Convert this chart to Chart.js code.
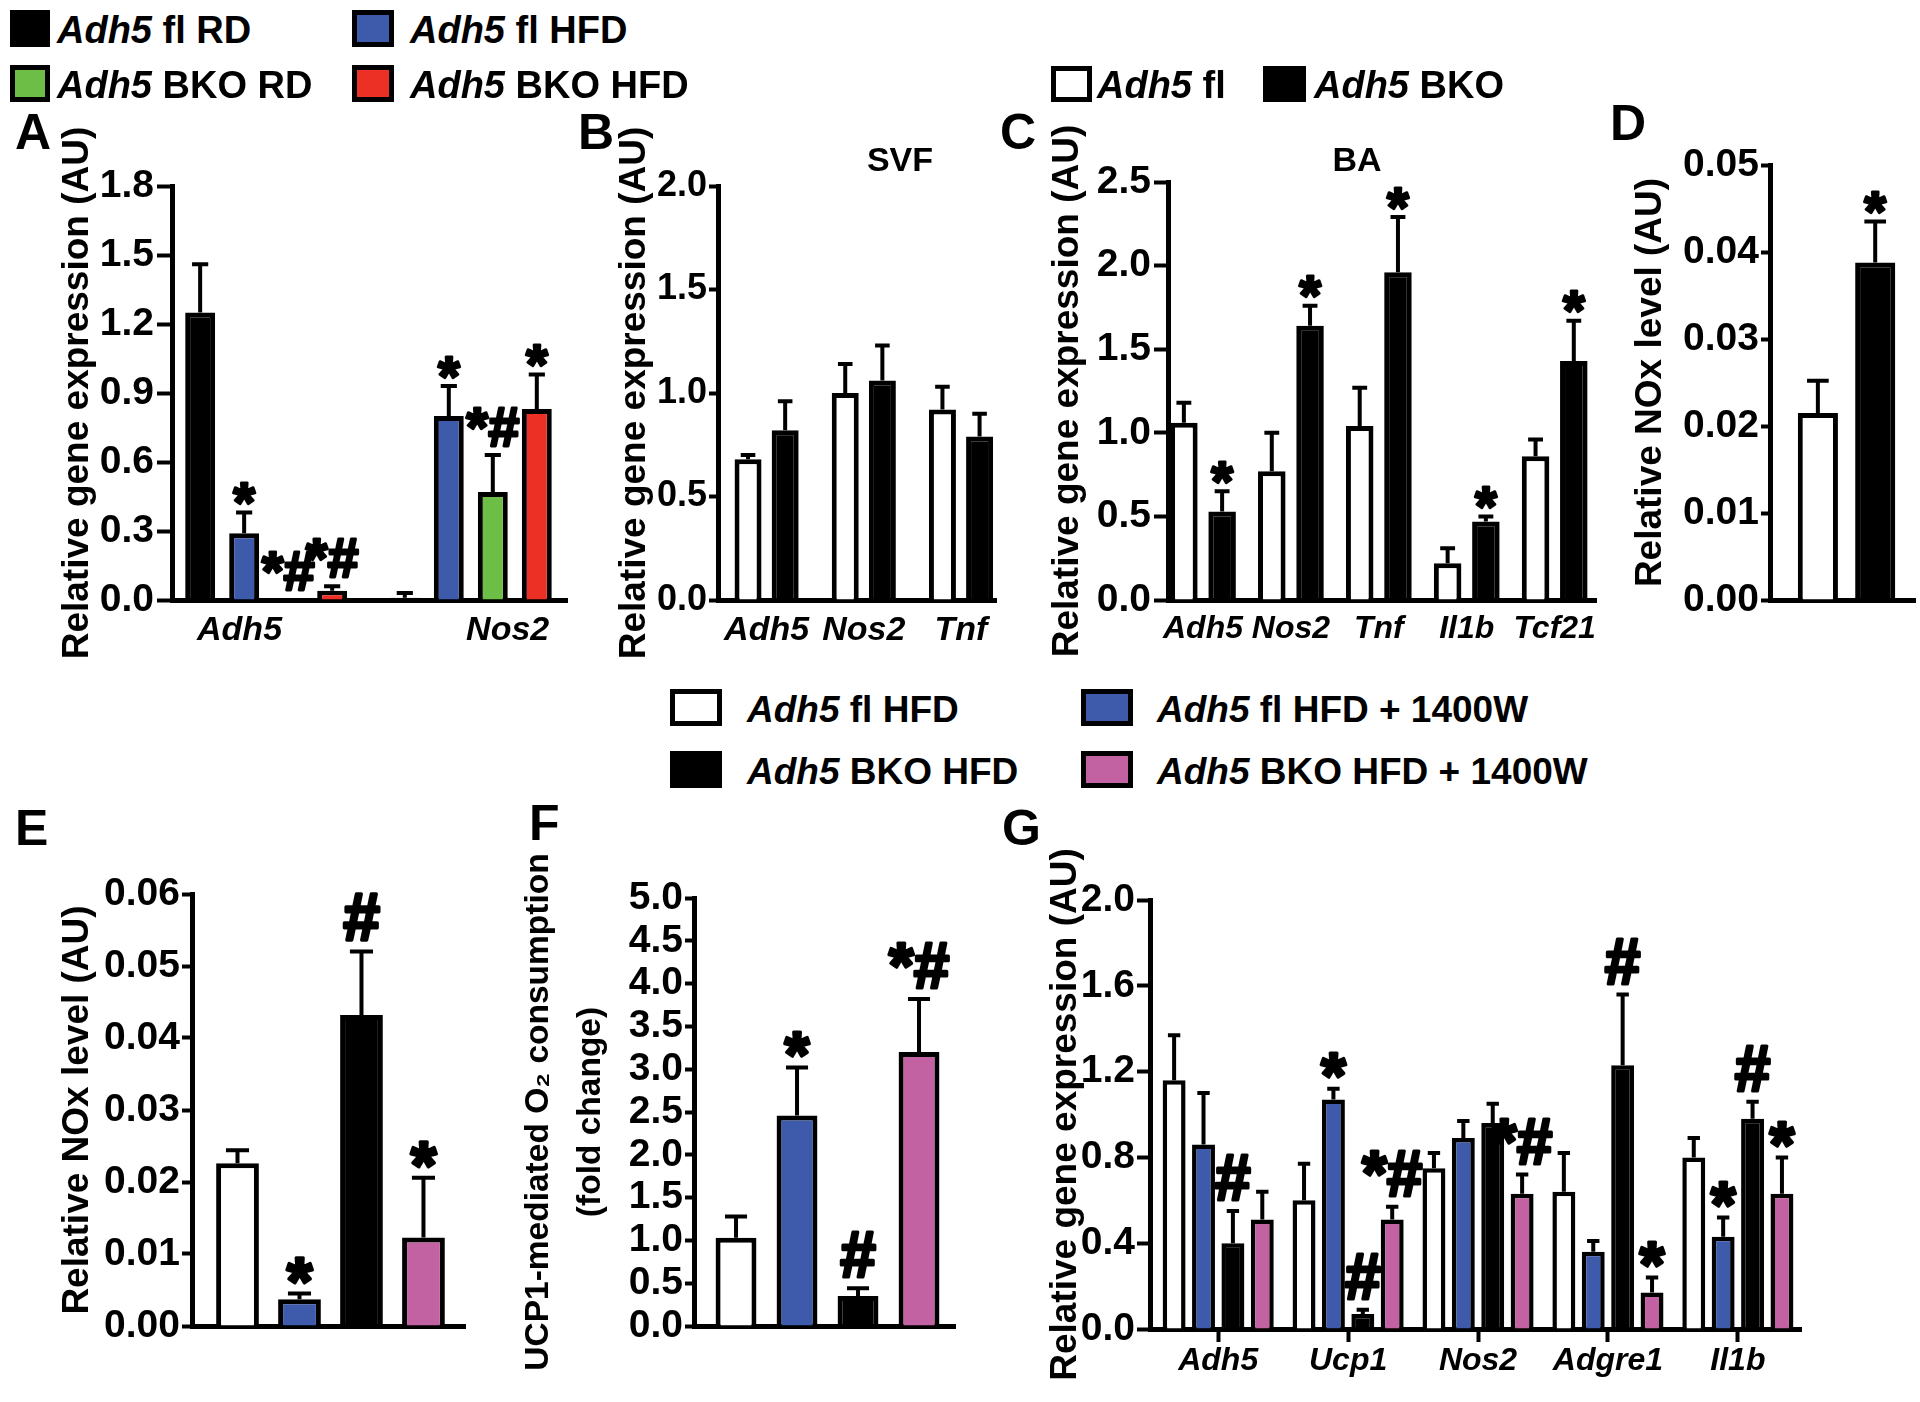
<!DOCTYPE html>
<html><head><meta charset="utf-8">
<script src="https://cdn.jsdelivr.net/npm/chart.js@4.4.1/dist/chart.umd.min.js"></script>
<style>
html,body{margin:0;padding:0;background:#fff;}
body{width:1920px;height:1402px;position:relative;overflow:hidden;font-family:"Liberation Sans",Arial,Helvetica,sans-serif;font-weight:bold;color:#000;}
canvas{position:absolute;}
.t{position:absolute;white-space:nowrap;line-height:1;}
.c{transform:translateX(-50%);}
.box{position:absolute;box-sizing:border-box;border:5px solid #000;}
</style></head><body>
<script>
// ================= DATA =================
// Panel A
const A_categories = ['Adh5', 'Nos2'];
const A_groups = ['Adh5 fl RD', 'Adh5 fl HFD', 'Adh5 BKO RD', 'Adh5 BKO HFD'];
const A_flRD = [1.25, 0.01];
const A_flRD_sem = [0.21, 0.02];
const A_flRD_sig = ['', ''];
const A_flHFD = [0.29, 0.80];
const A_flHFD_sem = [0.09, 0.13];
const A_flHFD_sig = ['*', '*'];
const A_bkoRD = [0.00, 0.47];
const A_bkoRD_sem = [0.00, 0.16];
const A_bkoRD_sig = ['*#', '*#'];
const A_bkoHFD = [0.04, 0.83];
const A_bkoHFD_sem = [0.02, 0.15];
const A_bkoHFD_sig = ['*#', '*'];
const A_yTicks = [0, 0.3, 0.6, 0.9, 1.2, 1.5, 1.8];

// Panel B (SVF)
const B_categories = ['Adh5', 'Nos2', 'Tnf'];
const BCD_groups = ['Adh5 fl', 'Adh5 BKO'];
const B_fl = [0.68, 1.00, 0.92];
const B_fl_sem = [0.02, 0.14, 0.11];
const B_bko = [0.82, 1.06, 0.79];
const B_bko_sem = [0.14, 0.17, 0.11];
const B_yTicks = [0, 0.5, 1.0, 1.5, 2.0];

// Panel C (BA)
const C_categories = ['Adh5', 'Nos2', 'Tnf', 'Il1b', 'Tcf21'];
const C_fl = [1.06, 0.77, 1.04, 0.22, 0.86];
const C_fl_sem = [0.12, 0.23, 0.23, 0.09, 0.10];
const C_bko = [0.53, 1.64, 1.96, 0.47, 1.43];
const C_bko_sem = [0.12, 0.12, 0.33, 0.03, 0.24];
const C_bko_sig = ['*', '*', '*', '*', '*'];
const C_yTicks = [0, 0.5, 1.0, 1.5, 2.0, 2.5];

// Panel D
const D_values = [0.0215, 0.0388];
const D_sem = [0.0037, 0.0047];
const D_sig = ['', '*'];
const D_yTicks = [0, 0.01, 0.02, 0.03, 0.04, 0.05];

// Panels E-G groups
const EG_groups = ['Adh5 fl HFD', 'Adh5 fl HFD + 1400W', 'Adh5 BKO HFD', 'Adh5 BKO HFD + 1400W'];

// Panel E
const E_values = [0.0226, 0.0037, 0.0432, 0.0123];
const E_sem = [0.0018, 0.0008, 0.0088, 0.0083];
const E_sig = ['', '*', '#', '*'];
const E_yTicks = [0, 0.01, 0.02, 0.03, 0.04, 0.05, 0.06];

// Panel F
const F_values = [1.03, 2.46, 0.35, 3.20];
const F_sem = [0.25, 0.56, 0.09, 0.62];
const F_sig = ['', '*', '#', '*#'];
const F_yTicks = [0, 0.5, 1.0, 1.5, 2.0, 2.5, 3.0, 3.5, 4.0, 4.5, 5.0];

// Panel G
const G_categories = ['Adh5', 'Ucp1', 'Nos2', 'Adgre1', 'Il1b'];
const G_flHFD = [1.16, 0.60, 0.75, 0.64, 0.80];
const G_flHFD_sem = [0.21, 0.17, 0.07, 0.18, 0.09];
const G_flHFDW = [0.86, 1.07, 0.89, 0.36, 0.43];
const G_flHFDW_sem = [0.24, 0.05, 0.08, 0.05, 0.09];
const G_flHFDW_sig = ['', '*', '', '', '*'];
const G_bkoHFD = [0.40, 0.07, 0.96, 1.23, 0.98];
const G_bkoHFD_sem = [0.15, 0.02, 0.09, 0.33, 0.08];
const G_bkoHFD_sig = ['#', '#', '', '#', '#'];
const G_bkoHFDW = [0.51, 0.51, 0.63, 0.17, 0.63];
const G_bkoHFDW_sem = [0.13, 0.06, 0.09, 0.07, 0.17];
const G_bkoHFDW_sig = ['', '*#', '*#', '*', '*'];
const G_yTicks = [0, 0.4, 0.8, 1.2, 1.6, 2.0];

// ================= STYLE =================
const FONT = "'Liberation Sans', Arial, Helvetica, sans-serif";
const BLACK = '#000000', WHITE = '#ffffff', BLUE = '#3E5AAA', GREEN = '#6CBE46', RED = '#EC3025', PINK = '#C262A2';

function pts(vals) { return vals.map((v, i) => ({ x: i + 1, y: v })); }

const errPlugin = {
  id: 'errbars',
  afterDatasetsDraw(chart, args, opts) {
    const ctx = chart.ctx, ys = chart.scales.y;
    chart.data.datasets.forEach((ds, di) => {
      const meta = chart.getDatasetMeta(di);
      meta.data.forEach((bar, i) => {
        const v = ds.data[i].y, e = ds.sem ? ds.sem[i] : 0;
        const top = ys.getPixelForValue(v + e);
        ctx.save();
        ctx.strokeStyle = '#000'; ctx.lineWidth = opts.lw || 4; ctx.lineCap = 'butt';
        if (e > 0) {
          const half = bar.width * 0.27;
          ctx.beginPath();
          ctx.moveTo(bar.x, bar.y); ctx.lineTo(bar.x, top);
          ctx.moveTo(bar.x - half, top); ctx.lineTo(bar.x + half, top);
          ctx.stroke();
        }
        const s = ds.sig ? ds.sig[i] : '';
        if (s) {
          const fs = opts.fs || 56;
          ctx.font = 'bold ' + fs + 'px ' + FONT;
          ctx.fillStyle = '#000'; ctx.textAlign = 'center'; ctx.textBaseline = 'alphabetic';
          ctx.lineWidth = fs * 0.05; ctx.lineJoin = 'round';
          const yy = s.indexOf('#') >= 0 ? top - 0.17 * fs : top + 0.15 * fs;
          ctx.strokeText(s, bar.x, yy);
          ctx.fillText(s, bar.x, yy);
        }
        ctx.restore();
      });
    });
  }
};

function panel(cfg) {
  const [cl, ct, cr, cb] = cfg.canvas;
  const [ax0, ay0, ax1, ay1] = cfg.area;
  const c = document.createElement('canvas');
  c.width = cr - cl; c.height = cb - ct;
  c.style.left = cl + 'px'; c.style.top = ct + 'px';
  document.body.appendChild(c);
  const tLH = cfg.titleLH || 1.2;
  const tSize = cfg.titleSize || 37;
  const tFont = { family: FONT, size: tSize, weight: 'bold', lineHeight: tLH };
  const lh = tSize * tLH;
  new Chart(c, {
    type: 'bar',
    data: { datasets: cfg.datasets },
    options: {
      responsive: false, animation: false, events: [],
      layout: { padding: { left: 0, top: ay0 - ct, right: cr - ax1, bottom: 0 } },
      datasets: { bar: { categoryPercentage: cfg.cp, barPercentage: cfg.bp, borderWidth: cfg.bw || 5, borderColor: BLACK, borderSkipped: 'start' } },
      plugins: { legend: { display: false }, tooltip: { enabled: false }, title: { display: false }, errbars: { fs: cfg.fs, lw: cfg.lw } },
      scales: {
        x: {
          type: 'linear', min: cfg.xRange[0], max: cfg.xRange[1], offset: false,
          afterBuildTicks: s => { s.ticks = cfg.xTickPos.map(v => ({ value: v })); },
          afterFit: s => { s.height = cb - ay1; },
          ticks: {
            display: !!cfg.xLabels, autoSkip: false, maxRotation: 0, minRotation: 0,
            padding: cfg.xPad || 0, color: '#000',
            font: { family: FONT, size: cfg.xFont || 34, weight: 'bold', style: 'italic' },
            callback: (v, i) => cfg.xLabels ? cfg.xLabels[i] : ''
          },
          grid: { display: true, drawOnChartArea: false, drawTicks: !!cfg.xTicks, tickLength: 13, tickWidth: 4, tickColor: '#000', offset: false },
          border: { display: true, color: '#000', width: 5 }
        },
        y: {
          type: 'linear', min: 0, max: cfg.yTicks[cfg.yTicks.length - 1],
          afterBuildTicks: s => { s.ticks = cfg.yTicks.map(v => ({ value: v })); },
          afterFit: s => { s.width = ax0 - cl; },
          ticks: { autoSkip: false, padding: cfg.yPad, color: '#000', font: { family: FONT, size: cfg.yFont || 39, weight: 'bold' }, callback: v => Number(v).toFixed(cfg.dec) },
          grid: { display: true, drawOnChartArea: false, drawTicks: true, tickLength: cfg.tl, tickWidth: 4, tickColor: '#000' },
          border: { display: true, color: '#000', width: 5 },
          title: { display: true, text: cfg.title, color: '#000', font: tFont, padding: { top: cfg.titleX - cl - lh / 2, bottom: 0 } }
        }
      }
    },
    plugins: [errPlugin]
  });
}

function ds(label, vals, sem, sig, color) {
  return { label, data: pts(vals), sem, sig, backgroundColor: color, borderColor: BLACK };
}

// Panel A
panel({
  canvas: [30, 100, 620, 680], area: [172, 186, 567, 600], xRange: [0.54, 2.47],
  xTickPos: [0.87, 2.18], xLabels: A_categories, xPad: 10, cp: 0.86, bp: 0.68, tl: 15, yPad: 3,
  yTicks: A_yTicks, dec: 1, title: 'Relative gene expression (AU)', titleX: 78, fs: 56,
  datasets: [
    ds(A_groups[0], A_flRD, A_flRD_sem, A_flRD_sig, BLACK),
    ds(A_groups[1], A_flHFD, A_flHFD_sem, A_flHFD_sig, BLUE),
    ds(A_groups[2], A_bkoRD, A_bkoRD_sem, A_bkoRD_sig, GREEN),
    ds(A_groups[3], A_bkoHFD, A_bkoHFD_sem, A_bkoHFD_sig, RED)
  ]
});

// Panel B
panel({
  canvas: [600, 100, 1040, 680], area: [718, 186, 996, 600], xRange: [0.5, 3.36],
  xTickPos: [1, 2, 3], xLabels: B_categories, xPad: 10, cp: 0.764, bp: 0.727, tl: 9, yPad: 2, yFont: 36,
  yTicks: B_yTicks, dec: 1, title: 'Relative gene expression (AU)', titleX: 635, fs: 56,
  datasets: [
    ds(BCD_groups[0], B_fl, B_fl_sem, null, WHITE),
    ds(BCD_groups[1], B_bko, B_bko_sem, null, BLACK)
  ]
});

// Panel C
panel({
  canvas: [1020, 100, 1640, 680], area: [1168, 182, 1596, 600], xRange: [0.602, 5.47],
  xTickPos: [1, 2, 3, 4, 5], xLabels: C_categories, xPad: 10, xFont: 32, cp: 0.87, bp: 0.72, tl: 14, yPad: 3,
  yTicks: C_yTicks, dec: 1, title: 'Relative gene expression (AU)', titleX: 1068, fs: 56,
  datasets: [
    ds(BCD_groups[0], C_fl, C_fl_sem, null, WHITE),
    ds(BCD_groups[1], C_bko, C_bko_sem, C_bko_sig, BLACK)
  ]
});

// Panel D
panel({
  canvas: [1620, 100, 1920, 680], area: [1770, 165, 1915, 600], xRange: [0.165, 2.694],
  xTickPos: [1, 2], xLabels: null, cp: 1, bp: 0.7, tl: 9, yPad: 2,
  yTicks: D_yTicks, dec: 2, title: 'Relative NOx level (AU)', titleX: 1651, fs: 56,
  datasets: [
    { label: 'NOx', data: pts(D_values), sem: D_sem, sig: D_sig, backgroundColor: [WHITE, BLACK], borderColor: BLACK }
  ]
});

// Panel E
panel({
  canvas: [30, 800, 500, 1402], area: [192, 894, 465, 1326], xRange: [0.266, 4.67],
  xTickPos: [1, 2, 3, 4], xLabels: null, cp: 1, bp: 0.69, tl: 10, yPad: 2,
  yTicks: E_yTicks, dec: 2, title: 'Relative NOx level (AU)', titleX: 78, fs: 66,
  datasets: [
    { label: 'NOx', data: pts(E_values), sem: E_sem, sig: E_sig, backgroundColor: [WHITE, BLUE, BLACK, PINK], borderColor: BLACK }
  ]
});

// Panel F
panel({
  canvas: [500, 800, 1000, 1402], area: [694, 898, 955, 1326], xRange: [0.311, 4.59],
  xTickPos: [1, 2, 3, 4], xLabels: null, cp: 1, bp: 0.67, tl: 9, yPad: 2,
  yTicks: F_yTicks, dec: 1, title: ['UCP1-mediated O\u2082 consumption', '(fold change)'], titleX: 539, titleLH: 1.55, titleSize: 33.5, fs: 64,
  datasets: [
    { label: 'UCP1 O2', data: pts(F_values), sem: F_sem, sig: F_sig, backgroundColor: [WHITE, BLUE, BLACK, PINK], borderColor: BLACK }
  ]
});

// Panel G
panel({
  canvas: [1010, 800, 1840, 1402], area: [1150, 900, 1801, 1329], xRange: [0.475, 5.486],
  xTickPos: [1, 2, 3, 4, 5], xLabels: G_categories, xTicks: true, xPad: 0, xFont: 32, cp: 0.905, bp: 0.78, bw: 4.5, tl: 13, yPad: 2,
  yTicks: G_yTicks, dec: 1, title: 'Relative gene expression (AU)', titleX: 1066, fs: 64,
  datasets: [
    ds(EG_groups[0], G_flHFD, G_flHFD_sem, null, WHITE),
    ds(EG_groups[1], G_flHFDW, G_flHFDW_sem, G_flHFDW_sig, BLUE),
    ds(EG_groups[2], G_bkoHFD, G_bkoHFD_sem, G_bkoHFD_sig, BLACK),
    ds(EG_groups[3], G_bkoHFDW, G_bkoHFDW_sem, G_bkoHFDW_sig, PINK)
  ]
});

// ================= LEGENDS & LABELS (HTML text) =================
function addBox(x, y, w, h, color) {
  const d = document.createElement('div'); d.className = 'box';
  d.style.cssText += `left:${x}px;top:${y}px;width:${w}px;height:${h}px;background:${color};`;
  document.body.appendChild(d);
}
function addText(x, baseline, html, size, center) {
  const d = document.createElement('div'); d.className = 't' + (center ? ' c' : '');
  d.style.cssText += `left:${x}px;top:${baseline - 0.8465 * size}px;font-size:${size}px;`;
  d.innerHTML = html; document.body.appendChild(d);
}
function legendLabel(name) { return name.replace(/^Adh5/, '<i>Adh5</i>'); }

// legend for A
addBox(10, 10, 40, 37, BLACK);  addText(57, 43, legendLabel(A_groups[0]), 38);
addBox(352, 10, 42, 37, BLUE);  addText(410, 43, legendLabel(A_groups[1]), 38);
addBox(10, 65, 40, 37, GREEN);  addText(57, 98, legendLabel(A_groups[2]), 38);
addBox(352, 65, 42, 37, RED);   addText(410, 98, legendLabel(A_groups[3]), 38);

// legend for B-D
addBox(1051, 66, 41, 36, WHITE); addText(1097, 98, legendLabel(BCD_groups[0]), 38);
addBox(1263, 66, 43, 36, BLACK); addText(1314, 98, legendLabel(BCD_groups[1]), 38);

// legend for E-G
addBox(670, 689, 52, 37, WHITE); addText(747, 722, legendLabel(EG_groups[0]), 37);
addBox(1081, 689, 52, 37, BLUE); addText(1157, 722, legendLabel(EG_groups[1]), 37);
addBox(670, 751, 52, 37, BLACK); addText(747, 784, legendLabel(EG_groups[2]), 37);
addBox(1081, 751, 52, 37, PINK); addText(1157, 784, legendLabel(EG_groups[3]), 37);

// panel subtitles
addText(900, 171, 'SVF', 34, true);
addText(1357, 171, 'BA', 34, true);

// panel letters
const panelLetters = [['A', 15, 149], ['B', 578, 149], ['C', 1000, 149], ['D', 1610, 140], ['E', 15, 845], ['F', 529, 840], ['G', 1002, 845]];
panelLetters.forEach(([l, x, b]) => addText(x, b, l, 50));
</script>
</body></html>
